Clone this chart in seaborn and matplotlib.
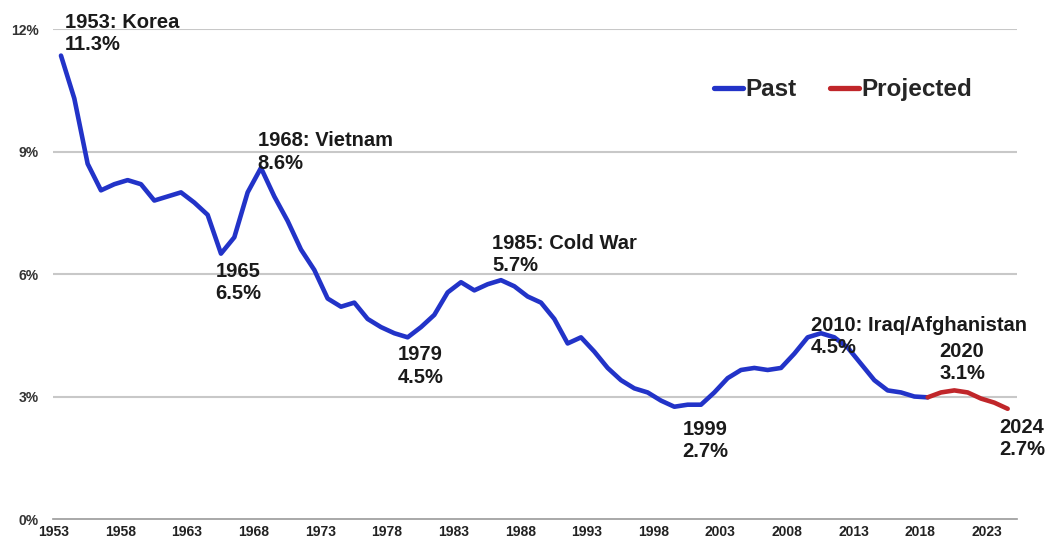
import numpy as np
import pandas as pd
import matplotlib
matplotlib.use("Agg")
import matplotlib.pyplot as plt
import seaborn as sns

# defense outlays as share of GDP (%)
past_years = list(range(1953, 2019))
past_pct = [
    11.35, 10.3, 8.7, 8.05, 8.2, 8.3, 8.2, 7.8, 7.9, 8.0,
    7.75, 7.45, 6.5, 6.9, 8.0, 8.6, 7.9, 7.3, 6.6, 6.1,
    5.4, 5.2, 5.3, 4.9, 4.7, 4.55, 4.45, 4.7, 5.0, 5.55,
    5.8, 5.6, 5.75, 5.85, 5.7, 5.45, 5.3, 4.9, 4.3, 4.45,
    4.1, 3.7, 3.4, 3.2, 3.1, 2.9, 2.75, 2.8, 2.8, 3.1,
    3.45, 3.65, 3.7, 3.65, 3.7, 4.05, 4.45, 4.55, 4.45, 4.2,
    3.8, 3.4, 3.15, 3.1, 3.0, 2.98,
]
proj_years = list(range(2018, 2025))
proj_pct = [2.98, 3.1, 3.15, 3.1, 2.95, 2.85, 2.7]

series_names = ["Past", "Projected"]
series_colors = ["#2233C8", "#C0262A"]

tick_years = list(range(1953, 2024, 5))
ytick_vals = [0, 3, 6, 9, 12]

# (title, value, x, y) label anchors in data units, top-left aligned
annotations = [
    ("1953: Korea", "11.3%", 1953.3, 12.4),
    ("1968: Vietnam", "8.6%", 1967.75, 9.5),
    ("1965", "6.5%", 1964.6, 6.3),
    ("1979", "4.5%", 1978.25, 4.26),
    ("1985: Cold War", "5.7%", 1985.35, 6.99),
    ("1999", "2.7%", 1999.6, 2.43),
    ("2010: Iraq/Afghanistan", "4.5%", 2009.25, 4.98),
    ("2020", "3.1%", 2018.85, 4.34),
    ("2024", "2.7%", 2023.35, 2.48),
]
line_gap = 0.55  # second label line, in % units

df = pd.concat([
    pd.DataFrame({"year": past_years, "pct": past_pct, "series": "Past"}),
    pd.DataFrame({"year": proj_years, "pct": proj_pct, "series": "Projected"}),
])

sns.set_style("white")
plt.rcParams["font.family"] = ["Liberation Sans", "DejaVu Sans"]

fig = plt.figure(figsize=(10.49, 5.42), dpi=100)
ax = fig.add_axes([0.0505, 0.0424, 0.919, 0.904])

for v in ytick_vals[1:]:
    ax.axhline(v, color="#c8c8c8", lw=1.5, zorder=0)

sns.lineplot(data=df, x="year", y="pct", hue="series",
             hue_order=series_names, palette=series_colors,
             lw=3.3, ax=ax, legend=True)

ax.set_xlim(1952.4, 2024.7)
ax.set_ylim(0, 12)
ax.set_xticks([y - 0.55 for y in tick_years])
ax.set_xticklabels([str(y) for y in tick_years], fontsize=10, fontweight="bold", color="#222222")
ax.set_yticks(ytick_vals)
ax.set_yticklabels([f"{v}%" for v in ytick_vals], fontsize=10, fontweight="bold", color="#333333")
ax.tick_params(axis="x", direction="inout", length=7, color="#999999", pad=1)
ax.tick_params(axis="y", length=0, pad=10)
ax.set_xlabel("")
ax.set_ylabel("")

for s in ["top", "right", "left"]:
    ax.spines[s].set_visible(False)
ax.spines["bottom"].set_color("#999999")
ax.spines["bottom"].set_linewidth(1.2)

for title, value, x, y in annotations:
    ax.text(x, y, title, fontsize=14.5, fontweight="bold", color="#1a1a1a",
            ha="left", va="top")
    ax.text(x, y - line_gap, value, fontsize=14.5, fontweight="bold", color="#1a1a1a",
            ha="left", va="top")

handles, labels = ax.get_legend_handles_labels()
leg = ax.legend(handles, labels, loc="center left", bbox_to_anchor=(0.663, 0.876),
                ncol=2, frameon=False, handlelength=1.2, handletextpad=0.08,
                columnspacing=1.4, prop={"size": 17.5, "weight": "bold"})
for line in leg.get_lines():
    line.set_linewidth(3.8)

fig.savefig("out.png", dpi=100)
